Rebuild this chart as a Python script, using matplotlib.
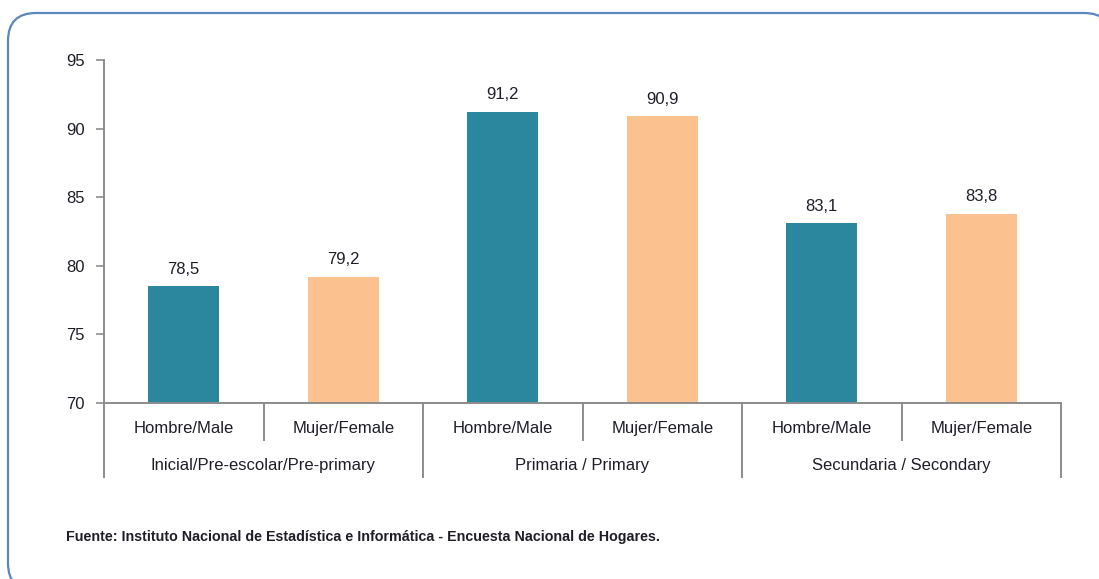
import matplotlib
matplotlib.use("Agg")
import matplotlib.pyplot as plt
from matplotlib.patches import FancyBboxPatch

plt.rcParams['font.family'] = ['Liberation Sans', 'DejaVu Sans']

# datos
niveles = ['Inicial/Pre-escolar/Pre-primary', 'Primaria / Primary', 'Secundaria / Secondary']
sexos = ['Hombre/Male', 'Mujer/Female']
valores = [78.5, 79.2, 91.2, 90.9, 83.1, 83.8]
etiquetas = ['78,5', '79,2', '91,2', '90,9', '83,1', '83,8']
fuente = 'Fuente: Instituto Nacional de Estadística e Informática - Encuesta Nacional de Hogares.'

col_h = '#2A879D'
col_m = '#FBC18E'
gris = '#8C8C8C'
texto = '#1E1E28'

fig = plt.figure(figsize=(10.99, 5.79), dpi=100)

# marco redondeado (en pixeles); relleno blanco para que no se recorte por el borde
marco = FancyBboxPatch((8, -12), 1104, 578, boxstyle='round,pad=0,rounding_size=28',
                       transform=None, facecolor='white', edgecolor='#5B86BE',
                       linewidth=1.6, zorder=-1)
fig.patches.append(marco)

ax = fig.add_axes([104 / 1099, 1 - 403 / 579, (1061 - 104) / 1099, 343 / 579])

x = list(range(len(valores)))
colores = [col_h, col_m] * len(niveles)
barras = ax.bar(x, [v - 70 for v in valores], bottom=70, width=0.445, color=colores)
for b, et in zip(barras, etiquetas):
    ax.annotate(et, (b.get_x() + b.get_width() / 2, b.get_y() + b.get_height()),
                xytext=(0, 7), textcoords='offset points', ha='center', va='bottom',
                fontsize=12, color=texto)

ax.set_xlim(-0.5, len(valores) - 0.5)
ax.set_ylim(70, 95)
ax.set_yticks([70, 75, 80, 85, 90, 95])
ax.tick_params(axis='y', length=6, width=1.2, color=gris, labelsize=12, labelcolor=texto, pad=8)
ax.set_xticks([])

for s in ['top', 'right']:
    ax.spines[s].set_visible(False)
for s in ['left', 'bottom']:
    ax.spines[s].set_color(gris)
    ax.spines[s].set_linewidth(1.4)

tr = ax.get_xaxis_transform()
# etiquetas de sexo
for i in x:
    ax.text(i, -0.073, sexos[i % 2], transform=tr, ha='center', va='center',
            fontsize=12, color=texto)
# etiquetas de nivel
for j, nv in enumerate(niveles):
    ax.text(2 * j + 0.5, -0.181, nv, transform=tr, ha='center', va='center',
            fontsize=12, color=texto)
# separadores
for j in range(len(niveles)):
    ax.plot([2 * j + 0.5] * 2, [0, -0.108], transform=tr, color=gris, lw=1.4, clip_on=False)
for j in range(len(niveles) + 1):
    ax.plot([2 * j - 0.5] * 2, [0, -0.216], transform=tr, color=gris, lw=1.4, clip_on=False)

fig.text(66 / 1099, 1 - 537 / 579, fuente, fontsize=10.3, fontweight='bold', color=texto,
         ha='left', va='center')

fig.savefig('out.png', dpi=100)
